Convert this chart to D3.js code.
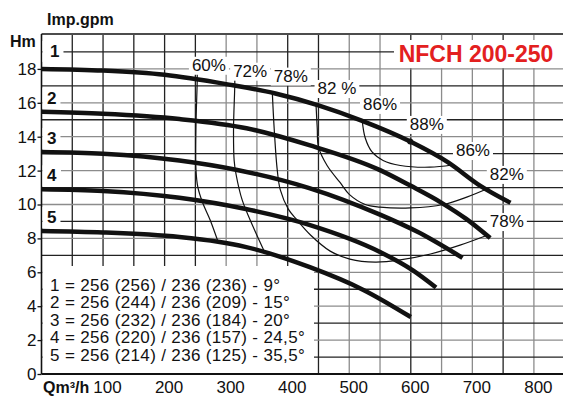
<!DOCTYPE html>
<html><head><meta charset="utf-8">
<script src="https://cdn.jsdelivr.net/npm/d3@7"></script>
<style>
body{margin:0;background:#fff}
svg{display:block;font-family:"Liberation Sans",Arial,Helvetica,sans-serif}
</style>
</head><body>
<svg id="c" width="563" height="397"></svg>
<script>
// ---------- data ----------
const curveNames = ["1", "2", "3", "4", "5"];
const curve1 = [[0,18.0],[100,17.9],[200,17.65],[300,17.1],[380,16.55],[450,15.85],[520,14.95],[600,13.7],[660,12.5],[713,11.1],[762,10.1]];
const curve2 = [[0,15.47],[100,15.35],[224,15.04],[333,14.5],[435,13.5],[550,12.03],[600,11.1],[650,10.1],[690,9.15],[729,8.02]];
const curve3 = [[0,13.1],[100,13.0],[224,12.6],[318,12.04],[435,10.97],[550,9.4],[610,8.4],[684,6.85]];
const curve4 = [[0,10.9],[100,10.8],[224,10.4],[330,9.75],[435,8.8],[550,7.2],[604,6.1],[641,5.1]];
const curve5 = [[0,8.44],[100,8.35],[224,8.08],[287,7.8],[331,7.5],[436,6.3],[523,4.96],[600,3.36]];

const eff60 = [[253,17.75],[253,17.3],[251,14.7],[251,12.04],[254,11.03],[262,10.09],[274,9.09],[287,7.79]];
const eff72 = [[314,17.7],[314,17.0],[312,14.5],[313,12.6],[316,11.8],[326,10.27],[344,8.67],[363,7.15]];
const eff78 = [[375,16.6],[378,14.5],[383,12.04],[388,10.86],[401,9.73],[415,9.09],[437,8.2],[469,7.25],[501,6.78],[542,6.6],[583,6.73],[632,7.08],[680,7.6],[721,8.14]];
const eff82 = [[446,15.9],[448,14.5],[450,13.4],[464,12.3],[485,11.3],[500,10.6],[526,10.0],[550,9.85],[599,9.8],[653,10.0],[692,10.45],[729,11.0]];
const eff86 = [[521,14.98],[526,13.92],[537,13.1],[555,12.6],[583,12.3],[631,12.2],[667,12.33]];
const bestPoint = [599, 13.72];

const effLabels = ["60%", "72%", "78%", "82 %", "86%", "88%", "86%", "82%", "78%"];
const effLabelQ = [272, 339, 405, 480, 550, 626, 701, 756, 756];
const effLabelH = [17.89, 17.54, 17.25, 16.52, 15.58, 14.4, 12.86, 11.45, 8.67];

const legendLines = [
  "1 = 256 (256) / 236 (236) - 9°",
  "2 = 256 (244) / 236 (209) - 15°",
  "3 = 256 (232) / 236 (184) - 20°",
  "4 = 256 (220) / 236 (157) - 24,5°",
  "5 = 256 (214) / 236 (125) - 35,5°"
];
const xTicks = [100, 200, 300, 400, 500, 600, 700, 800];
const yTicks = [0, 2, 4, 6, 8, 10, 12, 14, 16, 18];
const title = "NFCH 200-250";
const xTitle = "Qm³/h";
const yTitle = "Hm";
const topTitle = "Imp.gpm";

// ---------- drawing ----------
const W = 563, H = 397;
const svg = d3.select("#c");
svg.append("rect").attr("width", W).attr("height", H).attr("fill", "#fff");

const x = d3.scaleLinear().domain([0, 800]).range([41.5, 533.9]);
const y = d3.scaleLinear().domain([0, 20]).range([374, 35]);

// grid
const greyQ = new Set([300, 350, 500, 550, 650, 700, 800]);
const gGrid = svg.append("g");
gGrid.selectAll("line.v").data(d3.range(50, 851, 50)).join("line")
  .attr("x1", d => x(d)).attr("x2", d => x(d))
  .attr("y1", y(0)).attr("y2", y(20))
  .attr("stroke", d => greyQ.has(d) ? "#8c8c8c" : "#222")
  .attr("stroke-width", 1.3);
gGrid.selectAll("line.h").data(d3.range(1, 20)).join("line")
  .attr("x1", x(0)).attr("x2", W)
  .attr("y1", d => y(d)).attr("y2", d => y(d))
  .attr("stroke", d => d % 2 === 0 ? "#8c8c8c" : "#222")
  .attr("stroke-width", 1.3);

// white boxes layer
const gBoxes = svg.append("g");
// legend box
gBoxes.append("rect").attr("x", x(0) + 1).attr("y", 266)
  .attr("width", 314 - x(0) - 1).attr("height", y(0) - 266 - 1).attr("fill", "#fff");
// title box
gBoxes.append("rect").attr("x", 394).attr("y", 40).attr("width", W - 394).attr("height", 28).attr("fill", "#fff");

// axes frame
svg.append("line").attr("x1", x(0)).attr("x2", x(0)).attr("y1", y(20) - 1).attr("y2", y(0))
  .attr("stroke", "#111").attr("stroke-width", 1.6);
svg.append("line").attr("x1", x(0)).attr("x2", W).attr("y1", y(0)).attr("y2", y(0))
  .attr("stroke", "#111").attr("stroke-width", 2);
svg.append("line").attr("x1", x(0)).attr("x2", W).attr("y1", y(20) - 1).attr("y2", y(20) - 1)
  .attr("stroke", "#111").attr("stroke-width", 1.6);

// y axis ticks
const yAxis = svg.append("g").attr("transform", `translate(${x(0)},0)`)
  .call(d3.axisLeft(y).tickValues(yTicks).tickSize(4).tickPadding(1).tickFormat(d3.format("d")));
yAxis.select(".domain").remove();
yAxis.selectAll("line").attr("stroke", "#111").attr("stroke-width", 1.3);
yAxis.selectAll("text").attr("font-size", 17).attr("fill", "#111")
  .attr("font-family", '"Liberation Sans",Arial,sans-serif');

// x axis labels
const xAxis = svg.append("g").attr("transform", `translate(0,${y(0)})`)
  .call(d3.axisBottom(x).tickValues(xTicks).tickSize(0).tickPadding(7).tickFormat(d3.format("d")));
xAxis.select(".domain").remove();
xAxis.selectAll("text").attr("font-size", 17).attr("fill", "#111").attr("dx", 4)
  .attr("font-family", '"Liberation Sans",Arial,sans-serif');

// titles
svg.append("text").attr("x", 47).attr("y", 25).text(topTitle)
  .attr("font-size", 16).attr("font-weight", "bold").attr("fill", "#111");
svg.append("text").attr("x", 10).attr("y", 47).text(yTitle)
  .attr("font-size", 16).attr("font-weight", "bold").attr("fill", "#111");
svg.append("text").attr("x", 43).attr("y", 393).text(xTitle)
  .attr("font-size", 16).attr("font-weight", "bold").attr("fill", "#111");
svg.append("text").attr("x", 476).attr("y", 62).attr("text-anchor", "middle").text(title)
  .attr("font-size", 23).attr("font-weight", "bold").attr("fill", "#e3201f");

// efficiency contours
const thin = d3.line().x(d => x(d[0])).y(d => y(d[1])).curve(d3.curveCatmullRom.alpha(0.5));
[eff60, eff72, eff78, eff82, eff86].forEach(c => {
  svg.append("path").attr("d", thin(c)).attr("fill", "none")
    .attr("stroke", "#111").attr("stroke-width", 1.2);
});

// efficiency labels with white background
effLabels.forEach((t, i) => {
  const g = svg.append("g");
  const tx = g.append("text").attr("x", x(effLabelQ[i])).attr("y", y(effLabelH[i]))
    .attr("text-anchor", "middle").attr("font-size", 17).attr("fill", "#111").text(t);
  const b = tx.node().getBBox();
  g.insert("rect", "text").attr("x", b.x - 3).attr("y", b.y + 1)
    .attr("width", b.width + 6).attr("height", b.height - 1).attr("fill", "#fff");
});

// pump curves
const thick = d3.line().x(d => x(d[0])).y(d => y(d[1])).curve(d3.curveMonotoneX);
const curves = [curve1, curve2, curve3, curve4, curve5];
curves.forEach(c => {
  svg.append("path").attr("d", thick(c)).attr("fill", "none")
    .attr("stroke", "#111").attr("stroke-width", 4.5);
});
svg.append("circle").attr("cx", x(bestPoint[0])).attr("cy", y(bestPoint[1])).attr("r", 3).attr("fill", "#111");

// curve numbers
curveNames.forEach((n, i) => {
  const g = svg.append("g");
  const t = g.append("text").attr("x", i === 0 ? 50 : 47).attr("y", y(curves[i][0][1]) - (i === 0 ? 12 : 8))
    .attr("font-size", 17).attr("font-weight", "bold").attr("fill", "#111").text(n);
  const b = t.node().getBBox();
  g.insert("rect", "text").attr("x", x(0) + 1).attr("y", b.y - 1)
    .attr("width", b.x + b.width + 4 - x(0) - 1).attr("height", b.height + 2).attr("fill", "#fff");
});

// legend text
svg.append("g").selectAll("text").data(legendLines).join("text")
  .attr("x", 50).attr("y", (d, i) => 291 + i * 17.4)
  .attr("font-size", 17).attr("letter-spacing", 0.35).attr("fill", "#111").text(d => d);
</script>
</body></html>
